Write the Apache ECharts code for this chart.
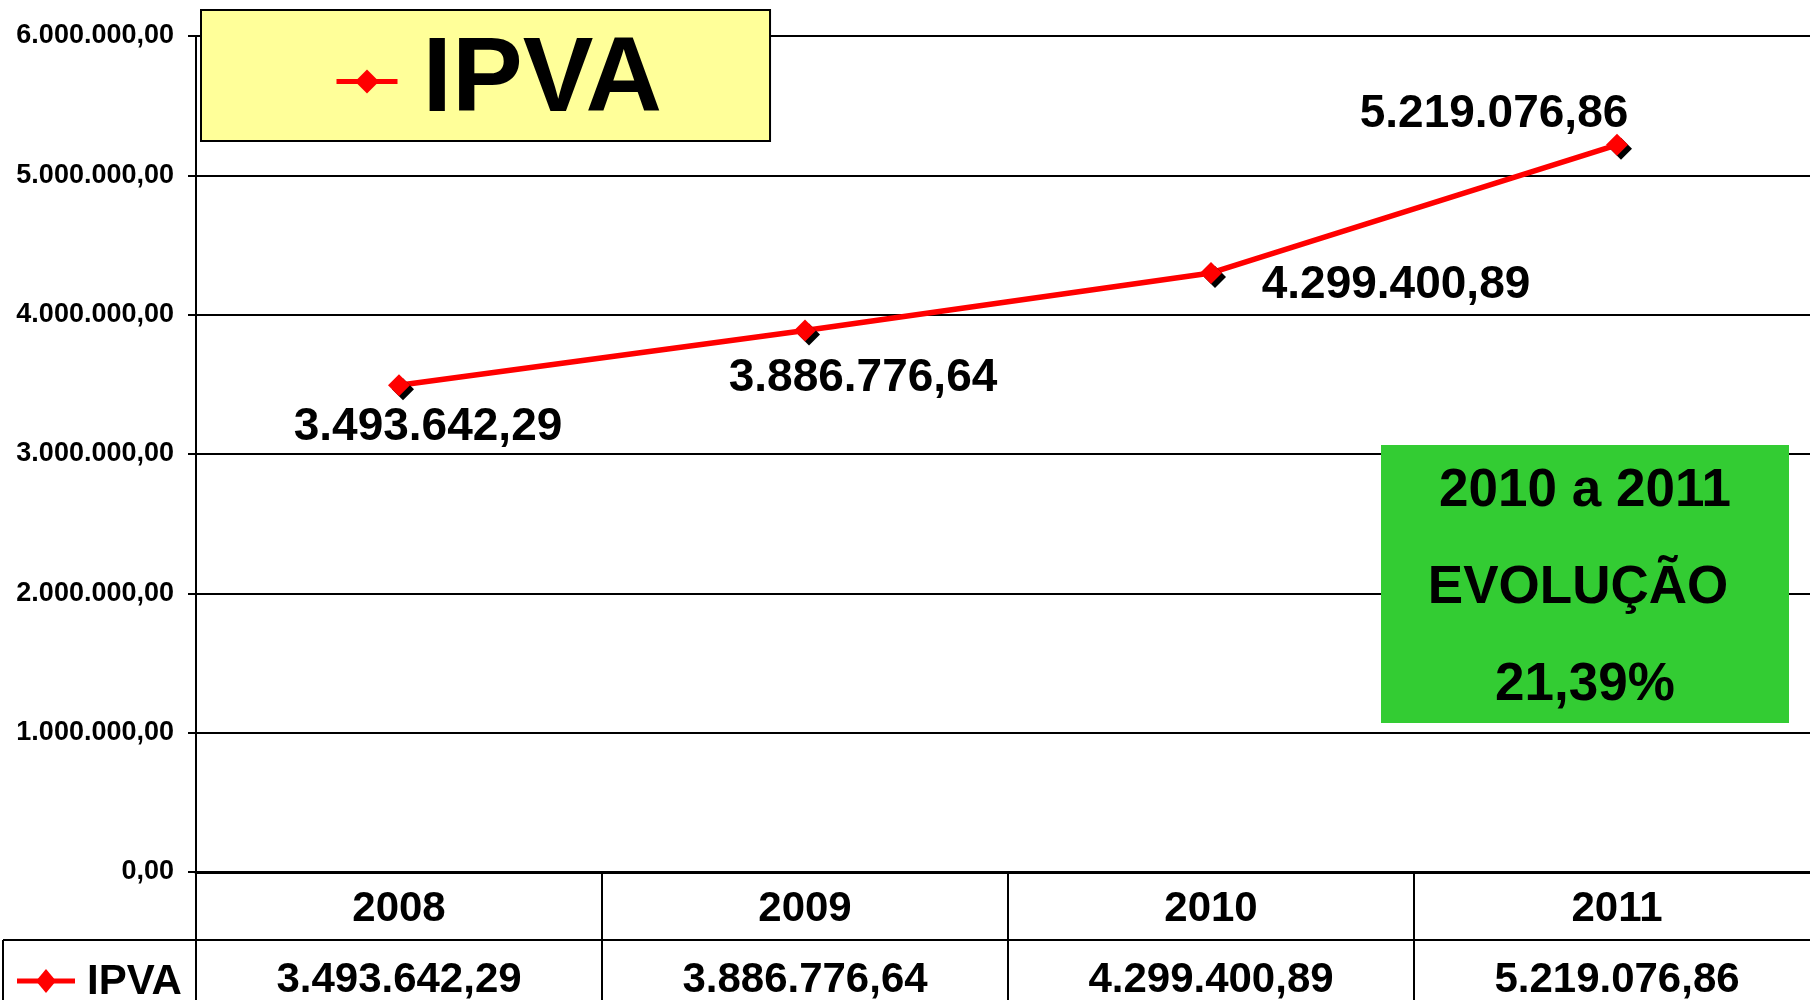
<!DOCTYPE html>
<html>
<head>
<meta charset="utf-8">
<script src="https://cdn.jsdelivr.net/npm/echarts@6/dist/echarts.min.js"></script>
<style>
  html, body { margin: 0; padding: 0; background: #fff; overflow: hidden; }
  /* the plot runs a little past the right edge of the picture */
  #chart { width: 1820px; height: 1000px; }
</style>
</head>
<body>
<div id="chart"></div>
<script>
// data
const categories = ["2008", "2009", "2010", "2011"];
const ipva = [3493642.29, 3886776.64, 4299400.89, 5219076.86];
const seriesName = "IPVA";
const yMax = 6000000;
const yStep = 1000000;
const noteLines = ["2010 a 2011", "EVOLUÇÃO", "21,39%"];

// where each point label sits, relative to its marker
const labelOffsets = [[29, 42], [58, 48], [185, 12], [-123, -30]];
// horizontal centre of each line in the green box
const noteX = [1585, 1578, 1585];

const FONT = "'Liberation Sans', Arial, sans-serif";

// 1234567.8 -> 1.234.567,80
function fmt(v) {
  const parts = v.toFixed(2).split(".");
  return parts[0].replace(/\B(?=(\d{3})+(?!\d))/g, ".") + "," + parts[1];
}

const chart = echarts.init(document.getElementById("chart"));

const noteText = noteLines.map((t, i) => ({
  type: "text", z: 61, x: noteX[i], y: 491 + i * 97,
  style: {
    text: t,
    fontSize: 53,
    fontWeight: "bold",
    fontFamily: FONT,
    fill: "#000",
    align: "center",
    verticalAlign: "middle",
  },
}));

const option = {
  animation: false,
  backgroundColor: "#fff",
  grid: { left: 196, right: 0, top: 36, bottom: 128, outerBoundsMode: "none" },
  legend: {
    left: 201,
    top: 10,
    padding: [14, 108, 2, 133],
    backgroundColor: "#FFFF99",
    borderColor: "#000",
    borderWidth: 2,
    borderRadius: 0,
    itemWidth: 61,
    itemHeight: 30,
    itemStyle: { shadowBlur: 0, shadowOffsetX: 0, shadowOffsetY: 0, shadowColor: "transparent" },
    lineStyle: { width: 5 },
    textStyle: {
      fontSize: 106,
      fontWeight: "bold",
      fontFamily: FONT,
      color: "#000",
      lineHeight: 95,
      padding: [20, 0, 0, 20],
    },
    data: [seriesName],
  },
  xAxis: [
    {
      type: "category",
      data: categories,
      boundaryGap: true,
      axisLine: { lineStyle: { color: "#000", width: 3 } },
      axisTick: { show: true, interval: 0, length: 128, lineStyle: { color: "#000", width: 2 } },
      axisLabel: {
        interval: 0,
        margin: 16,
        fontSize: 42,
        fontWeight: "bold",
        fontFamily: FONT,
        color: "#000",
      },
    },
    {
      type: "category",
      position: "bottom",
      data: ipva.map(fmt),
      boundaryGap: true,
      axisLine: { show: false },
      axisTick: { show: false },
      axisLabel: {
        interval: 0,
        margin: 87,
        fontSize: 42,
        fontWeight: "bold",
        fontFamily: FONT,
        color: "#000",
      },
    },
  ],
  yAxis: {
    type: "value",
    min: 0,
    max: yMax,
    interval: yStep,
    axisLine: { show: true, lineStyle: { color: "#000", width: 2 } },
    axisTick: { show: true, length: 8, lineStyle: { color: "#000", width: 2 } },
    splitLine: { show: true, lineStyle: { color: "#000", width: 2 } },
    axisLabel: {
      margin: 22,
      fontSize: 27,
      fontWeight: "bold",
      fontFamily: FONT,
      color: "#000",
      formatter: (v) => fmt(v),
    },
  },
  series: [
    {
      name: seriesName,
      type: "line",
      xAxisIndex: 0,
      symbol: "diamond",
      symbolSize: 22,
      lineStyle: { color: "#FF0000", width: 5.5 },
      itemStyle: {
        color: "#FF0000",
        shadowColor: "#000",
        shadowBlur: 0,
        shadowOffsetX: 4,
        shadowOffsetY: 4,
      },
      label: {
        show: true,
        position: "inside",
        align: "center",
        verticalAlign: "middle",
        fontSize: 46,
        fontWeight: "bold",
        fontFamily: FONT,
        color: "#000",
        formatter: (p) => fmt(p.value),
      },
      data: ipva.map((v, i) => ({ value: v, label: { offset: labelOffsets[i] } })),
      z: 3,
    },
  ],
  graphic: [
    // data table: row line and left border
    { type: "line", z: 50, shape: { x1: 3, y1: 940, x2: 1820, y2: 940 }, style: { stroke: "#000", lineWidth: 2 } },
    { type: "line", z: 50, shape: { x1: 3, y1: 940, x2: 3, y2: 1000 }, style: { stroke: "#000", lineWidth: 2 } },
    // legend key in the table
    { type: "line", z: 50, shape: { x1: 17, y1: 981, x2: 75, y2: 981 }, style: { stroke: "#FF0000", lineWidth: 5 } },
    {
      type: "polygon", z: 51,
      shape: { points: [[46, 969], [56, 981], [46, 993], [36, 981]] },
      style: { fill: "#FF0000" },
    },
    {
      type: "text", z: 50, x: 87, y: 982,
      style: {
        text: seriesName,
        fontSize: 42,
        fontWeight: "bold",
        fontFamily: FONT,
        fill: "#000",
        verticalAlign: "middle",
      },
    },
    // green note box
    {
      type: "rect", z: 60,
      shape: { x: 1381, y: 445, width: 408, height: 278 },
      style: { fill: "#33CC33" },
    },
    ...noteText,
  ],
};

chart.setOption(option);
</script>
</body>
</html>
